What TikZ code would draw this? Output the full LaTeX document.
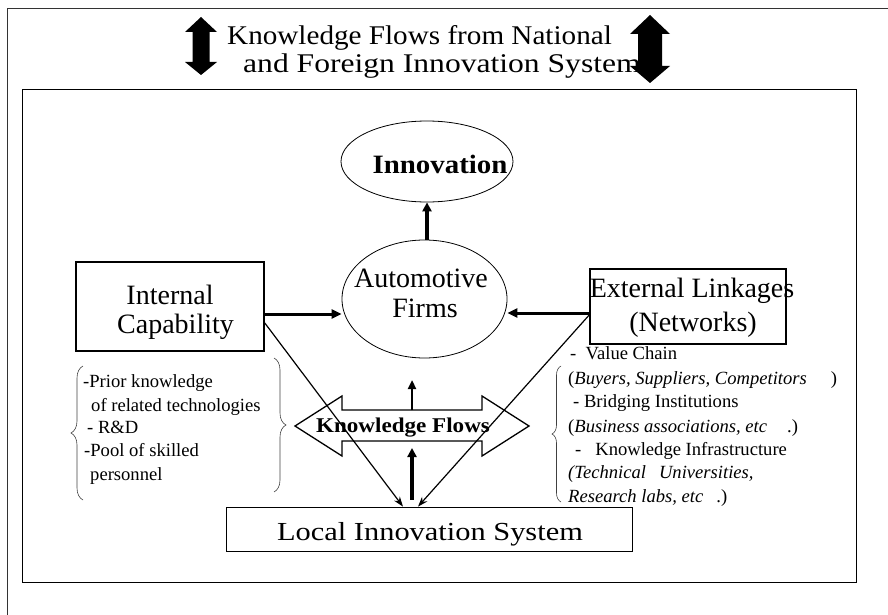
\documentclass[tikz,border=0pt]{standalone}
\usepackage{fontspec}
\setmainfont{Liberation Serif}
\usetikzlibrary{arrows.meta,shapes.geometric,decorations.pathreplacing}
\newcommand{\hsc}[2]{\scalebox{#1}[1]{#2}}
\begin{document}
\begin{tikzpicture}[x=1pt,y=-1pt,
  txt/.style={inner sep=0pt, anchor=base west},
  txtc/.style={inner sep=0pt, anchor=base},
  big/.style={font=\fontsize{28}{30}\selectfont},
  small/.style={font=\fontsize{18.6}{22}\selectfont},
  box/.style={draw, line width=1.6pt, inner sep=0pt},
  thinshape/.style={draw, line width=0.8pt, inner sep=0pt},
  thickarr/.style={line width=3pt, -{Triangle[length=10pt,width=9pt]}},
  vertarr/.style={line width=4pt, -{Triangle[length=9pt,width=9pt]}},
  diag/.style={line width=1.2pt, -{Stealth[length=10pt,width=7pt]}},
  bracestyle/.style={line width=0.6pt, black!75, decorate}]

\useasboundingbox (0,0) rectangle (888,615);
% frames
\draw[line width=1pt, black!80] (7,615) -- (7,9) -- (888,9);
\draw[line width=1pt] (22,90) rectangle (856,582);

% top double arrows
\fill (201,17) -- (217,32) -- (209.5,32) -- (209.5,62) -- (217,62) -- (201,75)
  -- (185,62) -- (192.5,62) -- (192.5,32) -- (185,32) -- cycle;
\fill (650,15) -- (670,34) -- (662,34) -- (662,66) -- (670,66) -- (650,83)
  -- (630,66) -- (638,66) -- (638,34) -- (630,34) -- cycle;

% title
\node[txt, font=\fontsize{27}{30}\selectfont] (t1) at (227,45) {\hsc{1.08}{Knowledge Flows from National}};
\node[txt, font=\fontsize{27}{30}\selectfont] (t2) at (243,73) {\hsc{1.17}{and Foreign Innovation Systems}};

% ellipses
\node[thinshape, ellipse, minimum width=172pt, minimum height=81pt] (inn) at (427,161.5) {};
\node[txtc, font=\bfseries\fontsize{26.5}{30}\selectfont] (innt) at (440,173) {\hsc{1.09}{Innovation}};
\node[thinshape, ellipse, minimum width=165pt, minimum height=118pt] (af) at (424.5,299) {};
\node[txtc, big] (aft1) at (421,287) {Automotive};
\node[txtc, big] (aft2) at (425,317) {Firms};

% boxes
\node[box, minimum width=188pt, minimum height=89pt] (ic) at (170,306.5) {};
\node[txtc, big] (ict1) at (170,304) {Internal};
\node[txtc, big] (ict2) at (175.5,333) {Capability};
\node[box, minimum width=196pt, minimum height=75pt] (el) at (688,306.5) {};
\node[txtc, big] (elt1) at (692,297) {External Linkages};
\node[txtc, big] (elt2) at (693,331) {(Networks)};
\node[thinshape, minimum width=406pt, minimum height=44pt] (lis) at (429,529) {};
\node[txtc, font=\fontsize{26}{30}\selectfont] (list) at (430,540) {\hsc{1.17}{Local Innovation System}};

% knowledge flows block arrow
\draw[line width=1.3pt, fill=white] (295,426) -- (342,396) -- (342,410) -- (482,410) -- (482,396)
  -- (529,426) -- (482,456) -- (482,441) -- (342,441) -- (342,456) -- cycle;
\node[txtc, font=\bfseries\fontsize{21}{24}\selectfont] (kft) at (403,432) {\hsc{1.1}{Knowledge Flows}};
\coordinate (kfbot) at (412,441);
\coordinate (kftop) at (412,410);
\coordinate (aftip) at (412,380);

% connectors
\draw[vertarr] (inn.south |- af.north) -- (inn.south);
\draw[thickarr] (ic.east |- 0,314) -- (af.west |- 0,314);
\draw[thickarr] (el.west |- 0,313) -- (af.east |- 0,313);
\draw[diag] (ic.east |- 0,323) -- ([xshift=-26pt]lis.north);
\draw[diag] (el.west |- 0,315) -- ([xshift=-11pt]lis.north);
\draw[vertarr] ([xshift=-17pt,yshift=7pt]lis.north) -- ([yshift=-7pt]kfbot);
\draw[line width=2.5pt, -{Triangle[length=9pt,width=8pt]}] (kftop) -- (aftip);

% braces
\draw[bracestyle, decoration={brace, amplitude=12pt}] (83,500) -- (83,366);
\draw[bracestyle, decoration={brace, amplitude=12pt}] (274,358) -- (274,492);
\draw[bracestyle, decoration={brace, amplitude=9pt}] (561,502) -- (561,366);

% left list
\node[txt, small] (l1) at (83,387) {-Prior knowledge};
\node[txt, small] (l2) at (91,411) {of related technologies};
\node[txt, small] (l3) at (87,433) {-\ R\&D};
\node[txt, small] (l4) at (84,456) {-Pool of skilled};
\node[txt, small] (l5) at (90,480) {personnel};

% right list
\node[txt, small] (r1) at (570,359) {-\ \ Value Chain};
\node[txt, small] (r2) at (568,384) {(\textit{Buyers, Suppliers, Competitors}\hspace{24pt})};
\node[txt, small] (r3) at (573,407) {-\ Bridging Institutions};
\node[txt, small] (r4) at (568,432) {(\textit{Business associations, etc}\hspace{20pt}.)};
\node[txt, small] (r5) at (575,455) {-\ \ \ Knowledge Infrastructure};
\node[txt, small] (r6) at (568,478) {\textit{(Technical\hspace{13pt}Universities,}};
\node[txt, small] (r7) at (568,502) {\textit{Research labs, etc}\hspace{13pt}.)};
\end{tikzpicture}
\end{document}
